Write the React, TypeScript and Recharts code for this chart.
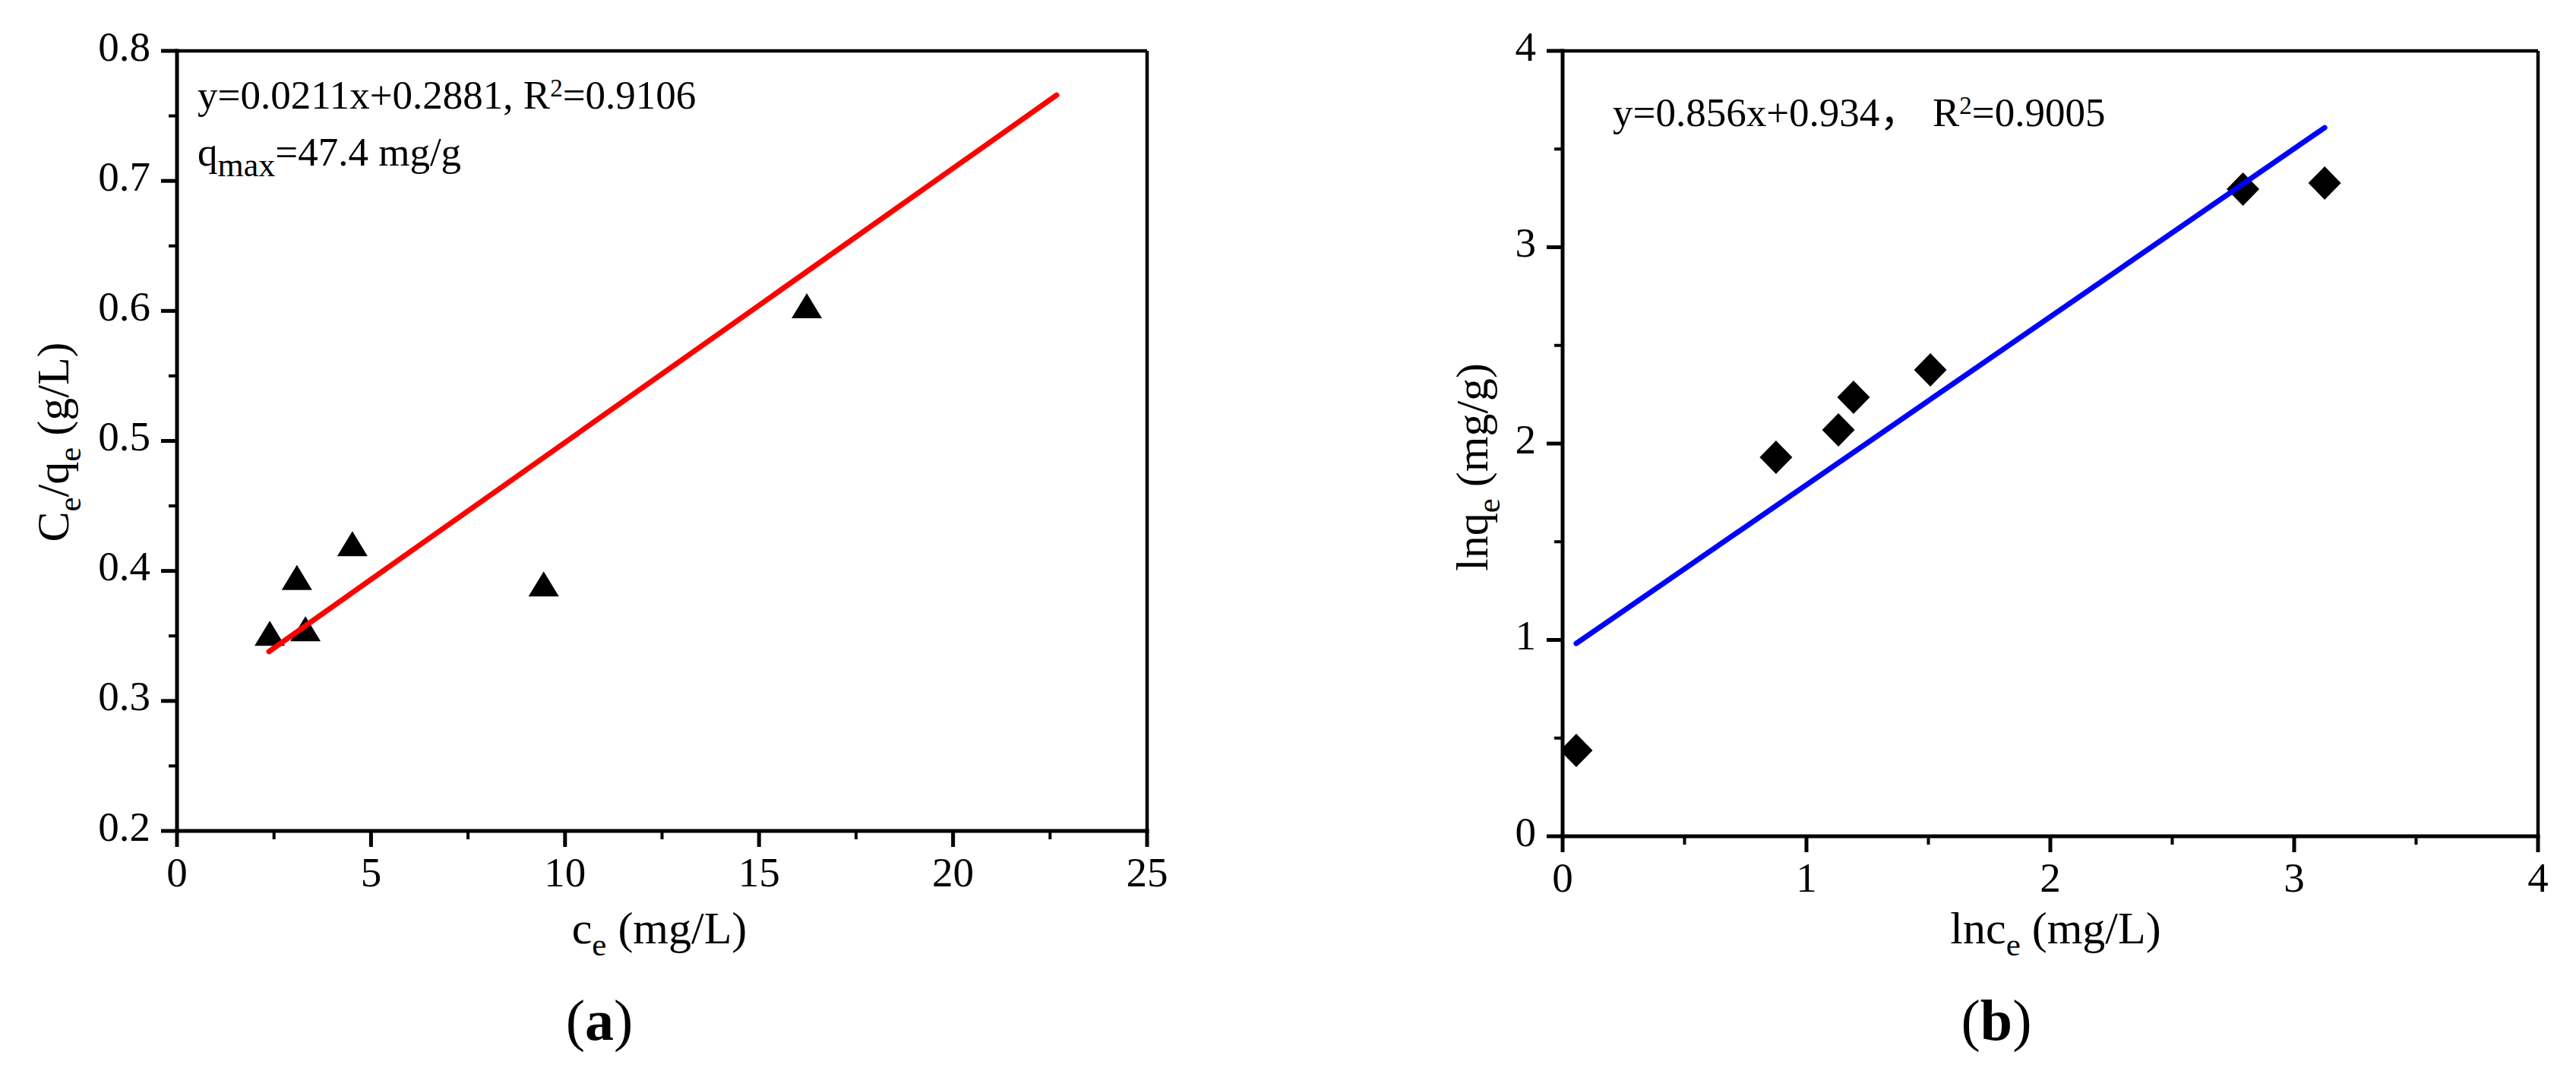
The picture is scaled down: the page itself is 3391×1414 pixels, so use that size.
import { ScatterChart, Scatter, XAxis, YAxis, ReferenceLine } from "recharts";

const FONT = "'Liberation Serif', 'Times New Roman', serif";
const CJK = "'Liberation Serif', 'Noto Sans CJK SC', serif";
const TICK = 20;

// (a) Langmuir: Ce/qe vs ce
const ceA = [2.39, 3.09, 3.31, 4.52, 9.45, 16.23];
const ratioA = [0.352, 0.395, 0.3555, 0.421, 0.39, 0.604];
const fitXA = [2.37, 22.67];
const fitYA = [0.338, 0.766];
const xMajorA = [0, 5, 10, 15, 20, 25];
const xMinorA = [2.5, 7.5, 12.5, 17.5, 22.5];
const yMajorA = [0.2, 0.3, 0.4, 0.5, 0.6, 0.7, 0.8];
const yMinorA = [0.25, 0.35, 0.45, 0.55, 0.65, 0.75];

// (b) Freundlich: lnqe vs lnce
const lnCeB = [0.056, 0.875, 1.131, 1.193, 1.508, 2.79, 3.125];
const lnQeB = [0.437, 1.93, 2.07, 2.236, 2.375, 3.296, 3.327];
const fitXB = [0.056, 3.125];
const fitYB = [0.982, 3.609];
const xMajorB = [0, 1, 2, 3, 4];
const xMinorB = [0.5, 1.5, 2.5, 3.5];
const yMajorB = [0, 1, 2, 3, 4];
const yMinorB = [0.5, 1.5, 2.5, 3.5];

const toPoints = (xs: number[], ys: number[]) => xs.map((x, i) => ({ x, y: ys[i] }));

const makeXTick = (majors: number[], fmt: (v: number) => string) => (p: any) => {
  const { x, y, payload } = p;
  const base = y - TICK;
  const major = majors.includes(payload.value);
  return (
    <g>
      <line x1={x} x2={x} y1={base} y2={base + (major ? 21 : 11)} stroke="#000" strokeWidth={major ? 5 : 4} />
      {major && (
        <text x={x} y={base + 73} textAnchor="middle" fontSize={55} fontFamily={FONT} fill="#000">
          {fmt(payload.value)}
        </text>
      )}
    </g>
  );
};

const makeYTick = (majors: number[], fmt: (v: number) => string) => (p: any) => {
  const { x, y, payload } = p;
  const base = x + TICK;
  const major = majors.includes(payload.value);
  return (
    <g>
      <line x1={base} x2={base - (major ? 21 : 11)} y1={y} y2={y} stroke="#000" strokeWidth={major ? 5 : 4} />
      {major && (
        <text x={base - 35} y={y + 12.5} textAnchor="end" fontSize={55} fontFamily={FONT} fill="#000">
          {fmt(payload.value)}
        </text>
      )}
    </g>
  );
};

const triangle = (p: any) => (
  <polygon
    points={`${p.cx},${p.cy - 16.5} ${p.cx + 20},${p.cy + 16.5} ${p.cx - 20},${p.cy + 16.5}`}
    fill="#000"
  />
);

const diamond = (p: any) => (
  <polygon
    points={`${p.cx},${p.cy - 22} ${p.cx + 21.5},${p.cy} ${p.cx},${p.cy + 22} ${p.cx - 21.5},${p.cy}`}
    fill="#000"
  />
);

const noDot = () => <g />;

const axisLine = { stroke: "#000", strokeWidth: 5, strokeLinecap: "square" as const };

export default function App() {
  return (
    <div style={{ position: "absolute", left: 0, top: 0, width: 3391, height: 1414, background: "#fff" }}>
      <div style={{ position: "absolute", left: 0, top: 0 }}>
        <ScatterChart width={1700} height={1414} margin={{ top: 67, right: 190, bottom: 220, left: 83 }}>
          <XAxis
            type="number"
            dataKey="x"
            domain={[0, 25]}
            ticks={[...xMajorA, ...xMinorA].sort((a, b) => a - b)}
            interval={0}
            allowDataOverflow
            height={100}
            tickSize={TICK}
            tickMargin={0}
            tickLine={false}
            axisLine={axisLine}
            tick={makeXTick(xMajorA, (v) => String(v))}
          />
          <YAxis
            type="number"
            dataKey="y"
            domain={[0.2, 0.8]}
            ticks={[...yMajorA, ...yMinorA].sort((a, b) => a - b)}
            interval={0}
            allowDataOverflow
            width={150}
            tickSize={TICK}
            tickMargin={0}
            tickLine={false}
            axisLine={axisLine}
            tick={makeYTick(yMajorA, (v) => v.toFixed(1))}
          />
          <ReferenceLine y={0.8} stroke="#000" strokeWidth={4.5} />
          <ReferenceLine x={25} stroke="#000" strokeWidth={4.5} />
          <Scatter data={toPoints(ceA, ratioA)} shape={triangle} isAnimationActive={false} />
          <Scatter
            data={toPoints(fitXA, fitYA)}
            shape={noDot}
            line={{ stroke: "#ff0000", strokeWidth: 7, strokeLinecap: "round" }}
            isAnimationActive={false}
          />
        </ScatterChart>
      </div>

      <div style={{ position: "absolute", left: 1700, top: 0 }}>
        <ScatterChart width={1691} height={1414} margin={{ top: 67, right: 50, bottom: 213, left: 207 }}>
          <XAxis
            type="number"
            dataKey="x"
            domain={[0, 4]}
            ticks={[...xMajorB, ...xMinorB].sort((a, b) => a - b)}
            interval={0}
            allowDataOverflow
            height={100}
            tickSize={TICK}
            tickMargin={0}
            tickLine={false}
            axisLine={axisLine}
            tick={makeXTick(xMajorB, (v) => String(v))}
          />
          <YAxis
            type="number"
            dataKey="y"
            domain={[0, 4]}
            ticks={[...yMajorB, ...yMinorB].sort((a, b) => a - b)}
            interval={0}
            allowDataOverflow
            width={150}
            tickSize={TICK}
            tickMargin={0}
            tickLine={false}
            axisLine={axisLine}
            tick={makeYTick(yMajorB, (v) => String(v))}
          />
          <ReferenceLine y={4} stroke="#000" strokeWidth={4.5} />
          <ReferenceLine x={4} stroke="#000" strokeWidth={4.5} />
          <Scatter data={toPoints(lnCeB, lnQeB)} shape={diamond} isAnimationActive={false} />
          <Scatter
            data={toPoints(fitXB, fitYB)}
            shape={noDot}
            line={{ stroke: "#0000ff", strokeWidth: 7, strokeLinecap: "round" }}
            isAnimationActive={false}
          />
        </ScatterChart>
      </div>

      <svg
        width={3391}
        height={1414}
        style={{ position: "absolute", left: 0, top: 0, pointerEvents: "none" }}
        fontFamily={FONT}
        fill="#000"
      >
        {/* panel a texts */}
        <text x={260} y={143} fontSize={53}>
          y=0.0211x+0.2881, R<tspan fontSize={33} dy={-16}>2</tspan>
          <tspan dy={16}>=0.9106</tspan>
        </text>
        <text x={260} y={218} fontSize={53}>
          q<tspan fontSize={44} dy={14}>max</tspan>
          <tspan dy={-14}>=47.4 mg/g</tspan>
        </text>
        <text x={868} y={1242} fontSize={60} textAnchor="middle">
          c<tspan fontSize={43} dy={16}>e</tspan>
          <tspan dy={-16}> (mg/L)</tspan>
        </text>
        <text transform="translate(90,582) rotate(-90)" fontSize={60} textAnchor="middle">
          C<tspan fontSize={43} dy={16}>e</tspan>
          <tspan dy={-16}>/q</tspan>
          <tspan fontSize={43} dy={16}>e</tspan>
          <tspan dy={-16}> (g/L)</tspan>
        </text>
        <text x={789} y={1369} fontSize={76} textAnchor="middle">
          (<tspan fontWeight="bold">a</tspan>)
        </text>

        {/* panel b texts */}
        <text x={2123} y={166} fontSize={53} fontFamily={CJK}>
          y=0.856x+0.934，
        </text>
        <text x={2544} y={166} fontSize={53}>
          R<tspan fontSize={33} dy={-16}>2</tspan>
          <tspan dy={16}>=0.9005</tspan>
        </text>
        <text x={2706} y={1242} fontSize={60} textAnchor="middle">
          lnc<tspan fontSize={43} dy={16}>e</tspan>
          <tspan dy={-16}> (mg/L)</tspan>
        </text>
        <text transform="translate(1958,615) rotate(-90)" fontSize={60} textAnchor="middle">
          lnq<tspan fontSize={43} dy={16}>e</tspan>
          <tspan dy={-16}> (mg/g)</tspan>
        </text>
        <text x={2628} y={1369} fontSize={76} textAnchor="middle">
          (<tspan fontWeight="bold">b</tspan>)
        </text>
      </svg>
    </div>
  );
}
